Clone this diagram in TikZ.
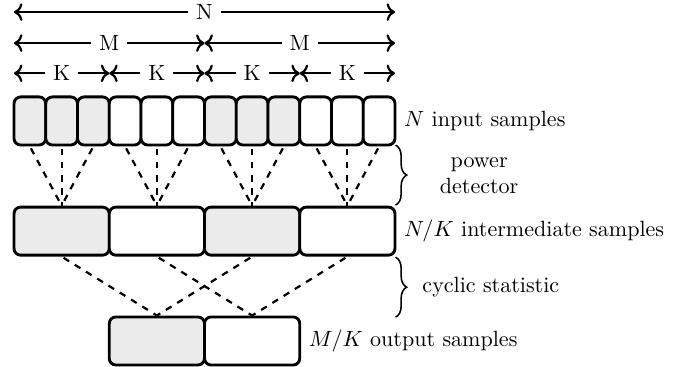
\documentclass[tikz,border=0pt]{standalone}
\usepackage{amsmath,amssymb,xcolor,tikz}
\usetikzlibrary{arrows.meta,positioning,decorations.pathreplacing,calc}
\definecolor{shade}{HTML}{EBEBEB}
\tikzset{
  smp/.style={draw, line width=1.3pt, rounded corners=3pt, minimum width=14.4pt, minimum height=21.8pt, inner sep=0pt},
  grp/.style={smp, minimum width=43.2pt},
  on/.style={fill=shade},
  off/.style={fill=white},
  span/.style={<->, line width=1pt},
  spanlbl/.style={fill=white, inner sep=3.6pt},
  wire/.style={line width=1pt, dashed, shorten <=1pt},
  brc/.style={decorate, decoration={brace, amplitude=5pt}, line width=0.7pt},
}

\begin{document}
\begin{tikzpicture}[x=14.4pt, y=14.4pt]
  \useasboundingbox (-0.441,0) rectangle (21.26,11.53);
  % spans
  \coordinate (n0) at (0,11.15); \coordinate (n1) at (12,11.15);
  \draw[span] (n0) -- node[spanlbl] {N} (n1);
  \foreach \i in {0,1,2} \coordinate (m\i) at ({6*\i},10.17);
  \draw[span] (m0) -- node[spanlbl] {M} (m1);
  \draw[span] (m1) -- node[spanlbl] {M} (m2);
  \foreach \i in {0,...,4} \coordinate (k\i) at ({3*\i},9.22);
  \foreach \i [evaluate=\i as \j using int(\i+1)] in {0,...,3}
    \draw[span] (k\i) -- node[spanlbl] {K} (k\j);
  % samples
  \foreach \i in {1,...,12}{%
    \pgfmathsetmacro{\fl}{mod(floor((\i-1)/3),2)==0 ? "on" : "off"}
    \node[smp, \fl] (in\i) at ({\i-0.5},7.72) {};}
  \node[grp, on]  (mid1) at (1.5,4.25) {};
  \node[grp, off] (mid2) at (4.5,4.25) {};
  \node[grp, on]  (mid3) at (7.5,4.25) {};
  \node[grp, off] (mid4) at (10.5,4.25) {};
  \node[grp, on]  (out1) at (4.5,0.79) {};
  \node[grp, off] (out2) at (7.5,0.79) {};
  % connections
  \foreach \g in {1,...,4}{%
    \foreach \s in {1,2,3}{%
      \pgfmathtruncatemacro{\k}{3*(\g-1)+\s}
      \draw[wire] (in\k.south) -- (mid\g.north);}}
  \draw[wire] (mid1.south) -- (out1.north);
  \draw[wire] (mid3.south) -- (out1.north);
  \draw[wire] (mid2.south) -- (out2.north);
  \draw[wire] (mid4.south) -- (out2.north);
  % labels
  \node[right=0pt of in12] (inlbl) {$N$ input samples};
  \node[right=0pt of mid4] (midlbl) {$N/K$ intermediate samples};
  \node[right=0pt of out2] (outlbl) {$M/K$ output samples};
  \coordinate (pd0) at (12.02,6.96); \coordinate (pd1) at (12.02,5.07);
  \draw[brc] (pd0) -- (pd1);
  \node[align=center] (pdlbl) at (14.65,6.0) {power\\detector};
  \coordinate (cs0) at (12.02,3.43); \coordinate (cs1) at (12.02,1.54);
  \draw[brc] (cs0) -- (cs1);
  \node[anchor=west] (cslbl) at (12.62,2.49) {cyclic statistic};
\end{tikzpicture}
\end{document}
